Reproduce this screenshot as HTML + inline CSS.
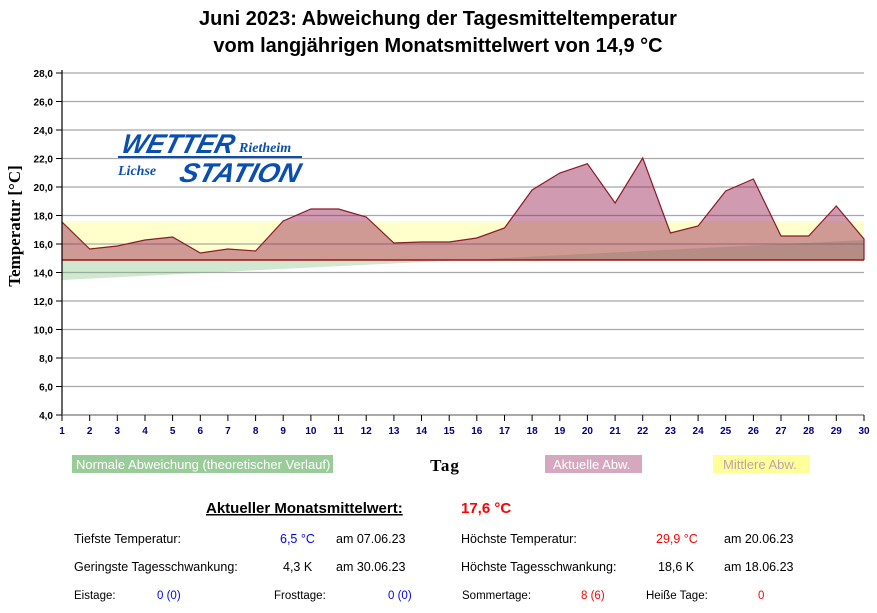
<!DOCTYPE html>
<html><head><meta charset="utf-8"><style>
body{margin:0;background:#fff;}
svg text{font-family:"Liberation Sans",Arial,sans-serif;}
</style></head><body>
<svg width="877" height="608" viewBox="0 0 877 608" xmlns="http://www.w3.org/2000/svg">
<rect width="877" height="608" fill="#fff"/>
<text x="438" y="25" text-anchor="middle" font-size="20" font-weight="bold" fill="#000">Juni 2023: Abweichung der Tagesmitteltemperatur</text>
<text x="438" y="52" text-anchor="middle" font-size="20" font-weight="bold" fill="#000">vom langjährigen Monatsmittelwert von 14,9 °C</text>
<rect x="62" y="221" width="802" height="39" fill="#ffffcc"/>
<g stroke="#a8a8a8" stroke-width="1.3">
<line x1="62" y1="73" x2="864" y2="73"/><line x1="62" y1="101.5" x2="864" y2="101.5"/><line x1="62" y1="130" x2="864" y2="130"/><line x1="62" y1="158.5" x2="864" y2="158.5"/><line x1="62" y1="187" x2="864" y2="187"/><line x1="62" y1="215.5" x2="864" y2="215.5"/><line x1="62" y1="244" x2="864" y2="244"/><line x1="62" y1="272.5" x2="864" y2="272.5"/><line x1="62" y1="301" x2="864" y2="301"/><line x1="62" y1="329.5" x2="864" y2="329.5"/><line x1="62" y1="358" x2="864" y2="358"/><line x1="62" y1="386.5" x2="864" y2="386.5"/>
</g>
<polygon points="62,280 864,240 864,260 62,260" fill="rgba(120,190,120,0.35)"/>
<polygon points="62,260 62,222 89.7,249 117.3,246 145,240 172.6,237 200.3,253 227.9,249 255.6,251 283.2,221 310.9,209 338.6,209 366.2,217 393.9,243 421.5,242 449.2,242 476.8,238 504.5,228 532.1,190 559.8,173 587.4,163.7 615.1,203 642.7,158 670.4,233 698.1,226 725.7,191 753.4,179 781,236 808.7,236 836.3,206 864,239 864,260" fill="rgba(150,30,80,0.45)"/>
<polyline points="62,222 89.7,249 117.3,246 145,240 172.6,237 200.3,253 227.9,249 255.6,251 283.2,221 310.9,209 338.6,209 366.2,217 393.9,243 421.5,242 449.2,242 476.8,238 504.5,228 532.1,190 559.8,173 587.4,163.7 615.1,203 642.7,158 670.4,233 698.1,226 725.7,191 753.4,179 781,236 808.7,236 836.3,206 864,239 864,260" fill="none" stroke="#8b1a2a" stroke-width="1.2"/>
<line x1="62" y1="260" x2="864" y2="260" stroke="#a01010" stroke-width="1.5"/>
<line x1="62" y1="70" x2="62" y2="415" stroke="#000" stroke-width="1.2"/>
<line x1="62" y1="415" x2="864" y2="415" stroke="#777" stroke-width="1.2"/>
<g font-size="10" font-weight="bold" text-anchor="end" fill="#000">
<text x="53" y="77">28,0</text><text x="53" y="105.5">26,0</text><text x="53" y="134">24,0</text><text x="53" y="162.5">22,0</text><text x="53" y="191">20,0</text><text x="53" y="219.5">18,0</text><text x="53" y="248">16,0</text><text x="53" y="276.5">14,0</text><text x="53" y="305">12,0</text><text x="53" y="333.5">10,0</text><text x="53" y="362">8,0</text><text x="53" y="390.5">6,0</text><text x="53" y="419">4,0</text>
</g>
<g stroke="#000"><line x1="56" y1="73" x2="62" y2="73"/><line x1="56" y1="101.5" x2="62" y2="101.5"/><line x1="56" y1="130" x2="62" y2="130"/><line x1="56" y1="158.5" x2="62" y2="158.5"/><line x1="56" y1="187" x2="62" y2="187"/><line x1="56" y1="215.5" x2="62" y2="215.5"/><line x1="56" y1="244" x2="62" y2="244"/><line x1="56" y1="272.5" x2="62" y2="272.5"/><line x1="56" y1="301" x2="62" y2="301"/><line x1="56" y1="329.5" x2="62" y2="329.5"/><line x1="56" y1="358" x2="62" y2="358"/><line x1="56" y1="386.5" x2="62" y2="386.5"/><line x1="56" y1="415" x2="62" y2="415"/></g>
<g font-size="10" font-weight="bold" text-anchor="middle" fill="#000080">
<text x="62" y="434">1</text><text x="89.7" y="434">2</text><text x="117.3" y="434">3</text><text x="145" y="434">4</text><text x="172.6" y="434">5</text><text x="200.3" y="434">6</text><text x="227.9" y="434">7</text><text x="255.6" y="434">8</text><text x="283.2" y="434">9</text><text x="310.9" y="434">10</text><text x="338.6" y="434">11</text><text x="366.2" y="434">12</text><text x="393.9" y="434">13</text><text x="421.5" y="434">14</text><text x="449.2" y="434">15</text><text x="476.8" y="434">16</text><text x="504.5" y="434">17</text><text x="532.1" y="434">18</text><text x="559.8" y="434">19</text><text x="587.4" y="434">20</text><text x="615.1" y="434">21</text><text x="642.7" y="434">22</text><text x="670.4" y="434">23</text><text x="698.1" y="434">24</text><text x="725.7" y="434">25</text><text x="753.4" y="434">26</text><text x="781" y="434">27</text><text x="808.7" y="434">28</text><text x="836.3" y="434">29</text><text x="864" y="434">30</text>
</g>
<g stroke="#000"><path d="M62 415v6M89.7 415v6M117.3 415v6M145 415v6M172.6 415v6M200.3 415v6M227.9 415v6M255.6 415v6M283.2 415v6M310.9 415v6M338.6 415v6M366.2 415v6M393.9 415v6M421.5 415v6M449.2 415v6M476.8 415v6M504.5 415v6M532.1 415v6M559.8 415v6M587.4 415v6M615.1 415v6M642.7 415v6M670.4 415v6M698.1 415v6M725.7 415v6M753.4 415v6M781 415v6M808.7 415v6M836.3 415v6M864 415v6"/></g>
<text transform="translate(20,226) rotate(-90)" text-anchor="middle" font-size="17" font-weight="bold" style="font-family:'Liberation Serif',serif" fill="#000">Temperatur [°C]</text>
<text x="445" y="471" text-anchor="middle" font-size="17" font-weight="bold" style="font-family:'Liberation Serif',serif" letter-spacing="1">Tag</text>
<g fill="#0a4fb0" font-style="italic" font-weight="bold">
<text x="0" y="0" font-size="27" style="font-family:'Liberation Sans',sans-serif" textLength="112" lengthAdjust="spacingAndGlyphs" transform="translate(120,153) skewX(-15)">WETTER</text>
<text x="239" y="152" font-size="14" style="font-family:'Liberation Serif',serif">Rietheim</text>
<rect x="118" y="156" width="184" height="2"/>
<text x="118" y="175" font-size="14" style="font-family:'Liberation Serif',serif">Lichse</text>
<text x="0" y="0" font-size="27" style="font-family:'Liberation Sans',sans-serif" textLength="120" lengthAdjust="spacingAndGlyphs" transform="translate(178,182) skewX(-15)">STATION</text>
</g>
<rect x="72" y="455" width="261" height="18" fill="#99cc99"/>
<text x="76" y="469" font-size="13" fill="#fff">Normale Abweichung (theoretischer Verlauf)</text>
<rect x="545" y="455" width="97" height="18" fill="#d6a8c0"/>
<text x="553" y="469" font-size="13" fill="#fff">Aktuelle Abw.</text>
<rect x="713" y="455" width="97" height="18" fill="#ffff99"/>
<text x="723" y="469" font-size="13" fill="#c0a0b0">Mittlere Abw.</text>
<text x="206" y="513" font-size="15" font-weight="bold" text-decoration="underline">Aktueller Monatsmittelwert:</text>
<text x="461" y="513" font-size="15" font-weight="bold" fill="#ff0000">17,6 °C</text>
<g font-size="12.5" fill="#000">
<text x="74" y="543">Tiefste Temperatur:</text><text x="280" y="543" fill="#0000ff">6,5 °C</text><text x="336" y="543">am 07.06.23</text>
<text x="74" y="571">Geringste Tagesschwankung:</text><text x="283" y="571">4,3 K</text><text x="336" y="571">am 30.06.23</text>
<text x="461" y="543">Höchste Temperatur:</text><text x="656" y="543" fill="#ff0000">29,9 °C</text><text x="724" y="543">am 20.06.23</text>
<text x="461" y="571">Höchste Tagesschwankung:</text><text x="658" y="571">18,6 K</text><text x="724" y="571">am 18.06.23</text>
</g>
<g font-size="11.5" fill="#000">
<text x="74" y="599">Eistage:</text><text x="157" y="599" fill="#0000ff">0 (0)</text>
<text x="274" y="599">Frosttage:</text><text x="388" y="599" fill="#0000ff">0 (0)</text>
<text x="462" y="599">Sommertage:</text><text x="581" y="599" fill="#ff0000">8 (6)</text>
<text x="646" y="599">Heiße Tage:</text><text x="758" y="599" fill="#ff0000">0</text>
</g>
</svg>
</body></html>
